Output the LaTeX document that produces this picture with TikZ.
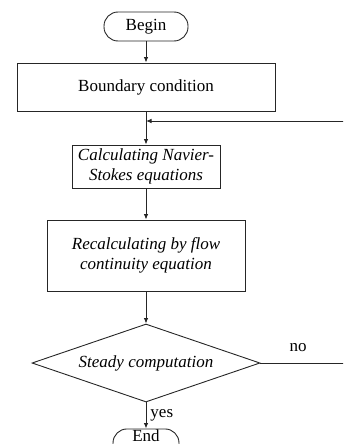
\documentclass[tikz,border=0pt]{standalone}
\usepackage{fontspec}
\setmainfont{Liberation Serif}
\usetikzlibrary{shapes.geometric,arrows.meta}
\begin{document}
\begin{tikzpicture}[x=1pt,y=-1pt,
  font=\fontsize{17}{20}\selectfont,
  line width=0.9pt,
  box/.style={draw=black!85, rectangle, inner sep=0pt, align=center},
  term/.style={draw=black!85, rectangle, rounded corners=14pt, inner sep=0pt, minimum height=29pt},
  dec/.style={draw=black!85, diamond, shape aspect=2.92, inner sep=0pt, minimum width=228pt, minimum height=78pt},
  arr/.style={draw=black!85, -{Latex[length=5.5pt,width=4.5pt]}},
  lbl/.style={inner sep=0pt}]
\useasboundingbox (0,0) rectangle (343,444);
\clip (0,0) rectangle (343,444);
\node[term, minimum width=84pt] (begin) at (146,26.5) {Begin};
\node[box, minimum width=258pt, minimum height=48pt] (bc) at (146,87) {Boundary condition};
\node[box, minimum width=148pt, minimum height=43pt] (calc) at (146,166.5) {\itshape Calculating Navier-\\\itshape Stokes equations};
\node[box, minimum width=198pt, minimum height=71pt] (recalc) at (146,255.5) {\itshape Recalculating by flow\\\itshape continuity equation};
\node[dec] (steady) at (146,363) {\itshape Steady computation};
\node[term, minimum width=66pt, text height=12.5pt, text depth=15.5pt, anchor=north] (end) at (146,428.5) {End};
\coordinate (fb) at (146,121);
\coordinate (c1) at (346,363);
\coordinate (c2) at (346,121);
\draw[arr] (begin) -- (bc);
\draw[arr] (bc) -- (calc);
\draw[arr] (calc) -- (recalc);
\draw[arr] (recalc) -- (steady);
\draw[arr] (steady) -- (end);
\draw[arr] (steady.east) -- (c1) -- (c2) -- (fb);
\node[lbl] (no) at (298,348) {no};
\node[lbl, anchor=west] (yes) at (150,415) {yes};
\end{tikzpicture}
\end{document}
